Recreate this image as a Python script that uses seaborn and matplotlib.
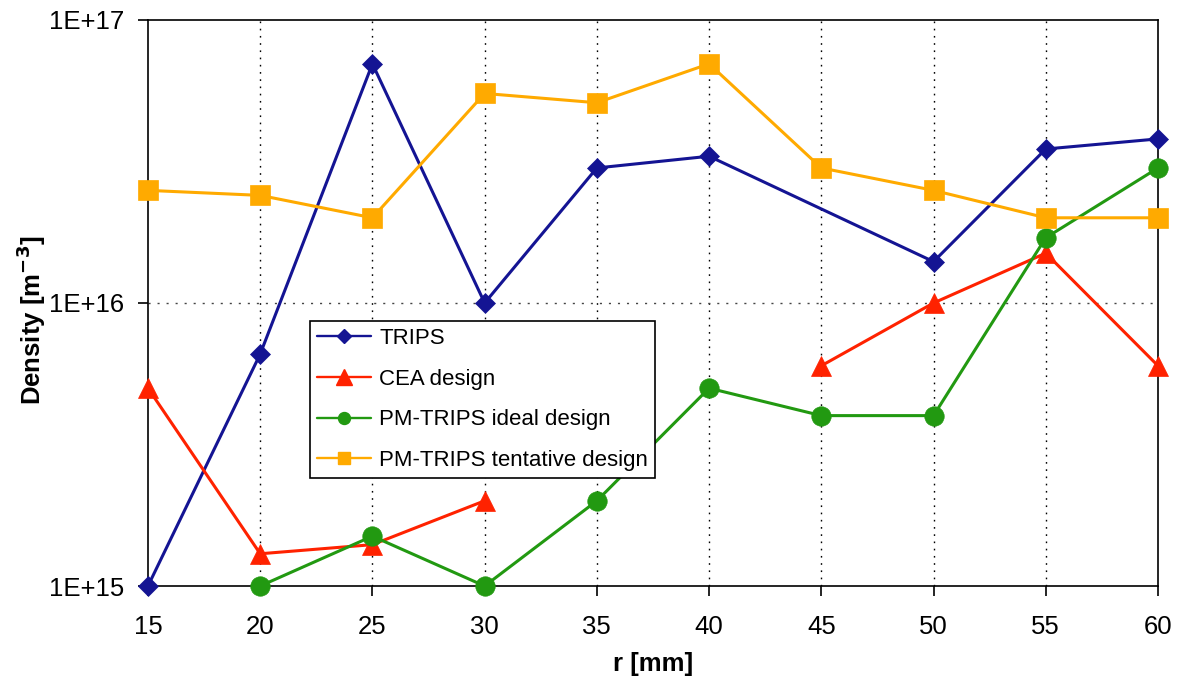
import numpy as np
import pandas as pd
import matplotlib
matplotlib.use("Agg")
import matplotlib.pyplot as plt
import seaborn as sns
from matplotlib.ticker import FixedLocator, FuncFormatter, NullLocator

# ---- data ----
r_mm = [15, 20, 25, 30, 35, 40, 45, 50, 55, 60]
trips = [1.0e15, 6.6e15, 7.0e16, 1.0e16, 3.0e16, 3.3e16, np.nan, 1.4e16, 3.5e16, 3.8e16]
cea = [5.0e15, 1.3e15, 1.4e15, 2.0e15, np.nan, np.nan, 6.0e15, 1.0e16, 1.5e16, 6.0e15]
pm_ideal = [np.nan, 1.0e15, 1.5e15, 1.0e15, 2.0e15, 5.0e15, 4.0e15, 4.0e15, 1.7e16, 3.0e16]
pm_tent = [2.5e16, 2.4e16, 2.0e16, 5.5e16, 5.1e16, 7.0e16, 3.0e16, 2.5e16, 2.0e16, 2.0e16]
series_names = ["TRIPS", "CEA design", "PM-TRIPS ideal design", "PM-TRIPS tentative design"]
# TRIPS has no measurement at 45 mm but its line is drawn through (scatter series)
connect_gaps = [True, False, False, False]

colors = ["#141493", "#FF2200", "#229911", "#FFAA00"]
markers = ["D", "^", "o", "s"]
msizes = [10, 15, 14, 14]
leg_msizes = [7.6, 11, 8.6, 8.6]

sns.set_theme(style="white")
plt.rcParams["font.family"] = ["Liberation Sans", "DejaVu Sans"]
plt.rcParams["text.color"] = "black"
plt.rcParams["axes.labelcolor"] = "black"
plt.rcParams["xtick.color"] = "black"
plt.rcParams["ytick.color"] = "black"

fig = plt.figure(figsize=(11.81, 6.77), dpi=100)
ax = fig.add_axes([0.1253, 0.1344, 0.8552, 0.8361])

all_vals = [trips, cea, pm_ideal, pm_tent]
handles = []
for name, vals, col, mk, ms, lms, cg in zip(series_names, all_vals, colors, markers,
                                            msizes, leg_msizes, connect_gaps):
    df = pd.DataFrame({"r": r_mm, "v": vals})
    if cg:
        df["seg"] = 0
    else:
        df["seg"] = df["v"].isna().cumsum()
    df = df.dropna()
    for seg, sub in df.groupby("seg"):
        sns.lineplot(data=sub, x="r", y="v", ax=ax, color=col, marker=mk,
                     markersize=ms, markeredgecolor=col, markeredgewidth=0.5,
                     linewidth=2.2, estimator=None, sort=False, legend=False,
                     zorder=3, clip_on=False)
    handles.append(plt.Line2D([], [], color=col, marker=mk, markersize=lms,
                              markeredgecolor=col, linewidth=1.7, label=name))

ax.set_yscale("log")
ax.set_ylim(1e15, 1e17)
ax.set_xlim(15, 60)
ax.xaxis.set_major_locator(FixedLocator(r_mm))
ax.yaxis.set_major_locator(FixedLocator([1e15, 1e16, 1e17]))
ax.yaxis.set_minor_locator(NullLocator())
ax.yaxis.set_major_formatter(FuncFormatter(lambda v, p: "1E+%d" % int(round(np.log10(v)))))

for x in r_mm[1:-1]:
    ax.axvline(x, color="black", linestyle=(0, (1.2, 4)), linewidth=1.0, zorder=1)
ax.axhline(1e16, color="#444444", linestyle=(0, (1.5, 5)), linewidth=1.0, zorder=1)

for s in ax.spines.values():
    s.set_color("black")
    s.set_linewidth(1.2)

ax.tick_params(axis="both", which="major", direction="out", length=7.2, width=1.2,
               color="black", labelsize=18.5, bottom=True, left=True)
ax.tick_params(axis="y", pad=10)
ax.tick_params(axis="x", pad=14)

ax.set_xlabel("r [mm]", fontsize=18.5, fontweight="bold", labelpad=9)
ax.set_ylabel(r"Density [m$^{\mathbf{-3}}$]", fontsize=18.5, fontweight="bold")
ax.yaxis.set_label_coords(-0.099, 0.47)

leg = ax.legend(handles=handles, loc="upper left", bbox_to_anchor=(0.160, 0.468),
                fontsize=16, frameon=True, fancybox=False, shadow=False,
                borderaxespad=0, handlelength=2.45, labelspacing=0.88,
                borderpad=0.32, handletextpad=0.36)
leg.get_frame().set_edgecolor("black")
leg.get_frame().set_linewidth(1.2)
leg.get_frame().set_alpha(1)
leg.set_zorder(5)

fig.savefig("out.png", dpi=100)
